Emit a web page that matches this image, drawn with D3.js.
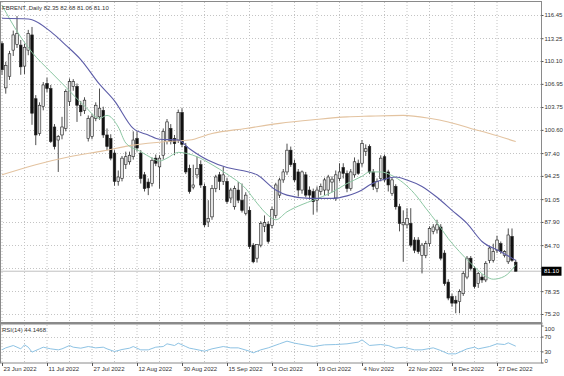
<!DOCTYPE html>
<html>
<head>
<meta charset="utf-8">
<script src="https://cdn.jsdelivr.net/npm/d3@7"></script>
<style>
  body { margin: 0; background: #fff; }
  svg { display: block; font-family: "Liberation Sans", Arial, sans-serif; }
</style>
</head>
<body>
<svg id="chart" width="564" height="376"></svg>
<script>
const title = 'FBRENT.,Daily 82.35 82.68 81.06 81.10';
const rsiTitle = 'RSI(14) 44.1468';

// one label every 12 bars
const dateLabels = ['23 Jun 2022','11 Jul 2022','27 Jul 2022','12 Aug 2022','30 Aug 2022','15 Sep 2022',
  '3 Oct 2022','19 Oct 2022','4 Nov 2022','22 Nov 2022','8 Dec 2022','27 Dec 2022'];

// daily OHLC, 23 Jun 2022 .. 4 Jan 2023
const open = [112.5,106.4,108.0,111.6,112.4,112.3,109.4,111.6,113.7,104.9,
  100.1,103.8,107.0,106.3,101.0,99.2,99.9,100.8,104.5,106.6,
  106.6,104.0,103.3,99.4,99.7,102.2,102.4,103.3,99.9,99.4,
  97.4,93.5,93.9,95.8,96.2,96.9,99.4,97.4,94.4,93.4,
  93.2,96.7,95.5,97.1,99.0,100.8,99.4,99.2,103.0,98.3,
  95.3,92.7,94.4,95.8,92.8,87.9,88.6,92.5,94.4,93.5,
  93.5,91.2,90.0,92.3,90.9,89.1,89.5,84.7,82.9,84.7,
  87.3,87.6,87.4,88.8,91.6,93.7,94.8,97.8,96.0,94.8,
  92.3,94.4,92.3,92.1,90.9,92.1,92.3,92.3,93.4,91.2,
  93.9,95.4,94.6,92.5,94.4,96.0,96.0,97.6,98.3,94.8,
  92.5,93.9,96.9,94.8,91.8,92.8,90.0,87.5,87.5,87.7,
  85.4,85.4,83.3,83.3,84.9,86.6,86.8,87.2,83.6,79.6,
  77.6,77.1,76.9,78.0,80.3,82.9,81.5,79.4,80.3,79.9,
  82.6,82.6,84.0,84.9,83.3,82.4,85.9,82.35];
const high = [112.8,110.0,111.5,114.3,116.3,113.0,112.5,114.4,114.8,105.4,
  104.4,107.2,107.8,106.8,101.4,99.9,102.4,106.2,107.7,107.6,
  107.0,104.6,105.1,102.6,102.8,104.4,106.3,103.8,100.8,100.0,
  97.8,95.0,97.0,97.6,97.6,100.4,100.4,97.8,94.8,93.9,
  96.8,97.2,97.1,100.8,102.1,101.4,99.9,103.4,103.6,98.8,
  95.8,95.8,96.9,96.4,93.2,90.9,93.0,94.4,94.8,95.5,
  94.0,92.6,92.9,93.4,93.2,92.0,90.0,85.0,84.8,88.0,
  88.8,88.0,90.0,93.3,94.0,95.2,98.7,98.3,96.5,95.2,
  95.0,94.8,92.8,92.5,92.8,93.2,94.0,94.4,94.2,95.0,
  96.0,96.0,95.0,95.2,96.8,96.5,99.2,98.6,98.6,95.2,
  93.9,97.1,97.2,95.1,94.0,93.1,90.4,89.5,89.8,89.8,
  85.8,85.8,85.0,85.3,87.3,87.6,88.2,87.6,84.0,80.0,
  78.0,77.7,78.6,81.1,83.2,83.2,81.8,81.0,80.7,82.5,
  84.6,84.9,86.0,85.2,84.0,87.0,87.0,82.68];
const low = [108.2,105.6,107.5,110.8,111.9,108.2,108.3,110.9,101.3,98.5,
  99.8,103.3,105.8,98.8,97.9,94.8,99.3,100.4,103.9,106.0,
  101.7,102.5,102.8,99.0,99.3,101.8,102.0,99.5,97.8,96.4,
  92.9,92.9,93.5,95.2,95.8,96.5,97.6,93.2,92.1,91.6,
  92.8,95.6,92.5,96.5,98.6,98.6,97.1,98.8,98.2,94.5,
  91.8,92.4,93.9,92.6,87.2,87.2,88.2,92.0,92.3,93.0,
  90.4,90.5,89.6,90.5,89.2,88.8,84.2,82.2,82.3,84.4,
  86.5,84.9,87.0,88.4,91.2,93.3,94.4,95.5,93.4,91.4,
  91.8,91.3,91.0,88.9,89.3,91.6,91.6,91.5,92.0,90.8,
  93.5,93.9,92.0,92.2,94.0,94.4,95.5,97.0,94.5,92.3,
  92.0,93.5,93.4,92.1,91.5,89.6,86.6,82.4,87.0,84.4,
  83.6,83.5,80.8,82.9,84.5,86.2,86.3,82.6,79.1,77.1,
  76.2,75.3,75.3,77.7,80.0,81.2,78.7,78.8,79.5,79.6,
  82.2,82.3,83.6,83.5,83.0,82.1,82.4,81.06];
const close = [108.9,109.5,111.1,113.7,113.9,109.3,112.0,113.9,102.9,99.9,
  104.0,106.8,106.3,99.0,98.3,99.7,101.0,105.9,107.25,107.25,
  104.0,103.1,104.7,102.2,102.4,104.0,103.6,99.9,98.3,96.7,
  93.5,94.1,96.7,96.9,97.1,99.2,98.1,93.9,92.5,92.6,
  96.4,96.0,96.7,100.4,101.7,99.0,98.7,103.0,98.6,94.8,
  92.1,93.0,95.3,93.0,87.5,88.4,92.5,94.1,93.5,94.4,
  90.7,92.3,92.5,90.9,89.5,91.6,84.5,82.4,84.8,87.7,
  87.8,85.2,89.6,93.0,93.7,94.8,97.8,95.8,93.7,92.3,
  94.8,91.6,91.6,90.7,92.3,92.8,93.7,94.1,93.8,94.4,
  94.8,94.6,92.5,94.8,96.2,94.6,98.7,98.0,94.8,92.8,
  93.5,96.7,93.7,93.0,93.7,90.0,87.7,87.8,88.4,84.7,
  84.0,83.8,84.7,84.9,87.0,87.2,87.5,82.9,79.4,77.4,
  76.7,76.7,78.3,80.8,82.9,81.5,79.0,80.8,79.9,82.2,
  84.3,83.8,85.4,83.8,83.8,86.1,82.6,81.10];

// moving averages: [bar index, price]
const maBlue = [[0,116.0],[7,115.9],[8,115.8],[13,114.15],[17,112.3],[21,110.3],[26,106.9],
  [30,104.6],[35,100.8],[39,99.9],[42,99.3],[47,99.2],[50,98.0],[55,96.4],[60,95.4],
  [64,95.0],[68,94.4],[73,92.3],[76,91.6],[82,91.15],[88,91.15],[92,91.5],[96,92.3],
  [98,93.0],[102,93.8],[105,94.1],[108,93.7],[112,92.8],[116,91.3],[120,89.5],[124,87.7],
  [128,85.2],[133,83.8],[137,82.6]];
const maGreen = [[0,117.8],[5,113.4],[8,111.3],[13,108.6],[17,106.5],[22,103.9],[26,102.2],
  [28,102.6],[31,101.0],[33,98.8],[37,97.6],[40,96.7],[42,96.3],[44,96.7],[47,97.5],
  [52,96.9],[56,95.8],[60,94.5],[65,92.5],[68,90.5],[71,88.8],[73,88.2],[76,89.3],
  [80,90.3],[83,90.9],[88,92.0],[92,93.2],[96,94.2],[98,94.8],[101,94.8],[104,94.3],
  [107,93.3],[110,91.8],[113,89.8],[116,87.8],[119,85.6],[122,83.8],[125,82.2],
  [129,80.4],[131,80.0],[134,80.4],[137,82.0]];
const maTan = [[0,94.4],[9,95.8],[18,96.9],[27,97.7],[35,98.5],[44,99.0],[50,99.2],
  [56,100.1],[65,100.8],[74,101.5],[83,102.0],[92,102.4],[98,102.5],[107,102.6],
  [114,102.2],[119,101.7],[125,100.8],[130,100.1],[137,99.0]];

const rsi = [[0,34.3],[1,39.6],[3,45.9],[4,41.4],[5,36.9],[6,47.7],[7,41.4],[8,28.0],
  [10,36.9],[11,41.4],[13,36.9],[15,34.2],[16,36.9],[18,45.9],[19,41.4],[21,38.7],
  [23,43.2],[25,39.6],[27,41.4],[28,36.9],[30,29.7],[32,35.1],[34,38.7],[35,43.2],
  [37,34.2],[39,34.2],[41,41.4],[43,43.2],[44,50.5],[46,45.9],[47,52.3],[49,43.2],
  [50,38.7],[51,36.9],[54,30.6],[56,36.9],[59,43.2],[61,39.6],[63,39.6],[66,30.6],
  [67,26.1],[69,34.2],[71,39.6],[74,50.5],[76,57.7],[78,52.3],[79,50.5],[83,43.2],
  [86,47.7],[89,48.6],[92,50.5],[95,55.0],[96,61.3],[98,46.0],[101,48.6],[103,45.9],
  [105,38.7],[107,41.4],[110,34.2],[112,34.2],[115,39.6],[117,32.4],[119,23.4],
  [121,23.4],[124,36.9],[126,41.4],[127,36.9],[130,43.2],[132,50.5],[134,48.6],
  [135,53.2],[137,44.1]];

const priceTicks = [116.45,113.25,110.10,106.95,103.75,100.60,97.40,94.25,91.05,87.90,84.70,81.55,78.35,75.20];
const rsiTicks = [100,70,30,0];
const rsiLevels = [70,30];
const lastPrice = 81.10;

const svg = d3.select('#chart');
const right = 541.5;
const n = close.length;
const fontSize = 6;

const x = d3.scaleLinear().domain([0, n-1]).range([2, 2 + (n-1)*3.75]);
const y = d3.scaleLinear().domain([75.20, 116.45]).range([314, 15]);
const yr = d3.scaleLinear().domain([0, 100]).range([362.5, 325.5]);

const textCol = '#333';
const gridCol = '#c4c4c4';

// grid, main panel + rsi panel
const grid = svg.append('g');
d3.range(0, n, 6).forEach(function(i){
  grid.append('line')
    .attr('x1', x(i)).attr('x2', x(i))
    .attr('y1', 2).attr('y2', 322)
    .attr('stroke', gridCol).attr('stroke-dasharray', '1,2');
  grid.append('line')
    .attr('x1', x(i)).attr('x2', x(i))
    .attr('y1', 325).attr('y2', 363)
    .attr('stroke', gridCol).attr('stroke-dasharray', '1,2');
});
priceTicks.forEach(function(p){
  grid.append('line')
    .attr('x1', 0).attr('x2', right)
    .attr('y1', Math.round(y(p)) + 0.5).attr('y2', Math.round(y(p)) + 0.5)
    .attr('stroke', gridCol).attr('stroke-dasharray', '1,2');
});
rsiLevels.forEach(function(v){
  grid.append('line')
    .attr('x1', 0).attr('x2', right)
    .attr('y1', Math.round(yr(v)) + 0.5).attr('y2', Math.round(yr(v)) + 0.5)
    .attr('stroke', gridCol).attr('stroke-dasharray', '1,2');
});

// bid line
svg.append('line')
  .attr('x1', 0).attr('x2', right)
  .attr('y1', y(lastPrice)).attr('y2', y(lastPrice))
  .attr('stroke', '#b0b0b0').attr('stroke-width', 0.8);

// candles
const bars = svg.append('g').selectAll('g')
  .data(d3.range(n))
  .join('g');

bars.append('line')
  .attr('x1', d => x(d)).attr('x2', d => x(d))
  .attr('y1', d => y(high[d])).attr('y2', d => y(low[d]))
  .attr('stroke', '#222').attr('stroke-width', 0.8);

bars.append('rect')
  .attr('x', d => x(d) - 1.3)
  .attr('width', 2.6)
  .attr('y', d => y(Math.max(open[d], close[d])))
  .attr('height', d => Math.max(0.8, Math.abs(y(open[d]) - y(close[d]))))
  .attr('fill', d => close[d] >= open[d] ? '#e4e4e4' : '#111')
  .attr('stroke', '#222').attr('stroke-width', 0.6);

// moving averages
const maLine = d3.line()
  .x(d => x(d[0]))
  .y(d => y(d[1]))
  .curve(d3.curveMonotoneX);

svg.append('path').datum(maTan)
  .attr('d', maLine).attr('fill', 'none')
  .attr('stroke', '#e3c3a0').attr('stroke-width', 1.1);
svg.append('path').datum(maGreen)
  .attr('d', maLine).attr('fill', 'none')
  .attr('stroke', '#8dc8a4').attr('stroke-width', 1);
svg.append('path').datum(maBlue)
  .attr('d', maLine).attr('fill', 'none')
  .attr('stroke', '#5d5da8').attr('stroke-width', 1.1);

// rsi
svg.append('path').datum(rsi)
  .attr('d', d3.line().x(d => x(d[0])).y(d => yr(d[1])))
  .attr('fill', 'none')
  .attr('stroke', '#8ec3e4').attr('stroke-width', 1);

// frame
const frame = svg.append('g').attr('fill', 'none').attr('stroke', '#8a8a8a');
frame.append('rect').attr('x', 0.5).attr('y', 1.5).attr('width', right - 0.5).attr('height', 321);
frame.append('rect').attr('x', 0.5).attr('y', 322.5).attr('width', right - 0.5).attr('height', 40.5);
svg.append('line').attr('x1', 0).attr('x2', right + 1)
  .attr('y1', 323.5).attr('y2', 323.5)
  .attr('stroke', '#8a8a8a').attr('stroke-width', 2);

// price axis (the label under the last-price box is hidden, as in the terminal)
const yAxis = svg.append('g')
  .attr('transform', `translate(${right},0)`)
  .call(d3.axisRight(y).tickValues(priceTicks)
    .tickFormat(d => Math.abs(y(d) - y(lastPrice)) < 7 ? '' : d3.format('.2f')(d))
    .tickSize(2).tickPadding(1));
yAxis.select('.domain').remove();
yAxis.selectAll('line').attr('stroke', '#555');
yAxis.selectAll('text').attr('fill', textCol).attr('font-size', fontSize)
  .attr('font-family', '"Liberation Sans", Arial, sans-serif');

// rsi axis
const rAxis = svg.append('g')
  .attr('transform', `translate(${right},0)`)
  .call(d3.axisRight(yr).tickValues(rsiTicks).tickSize(2).tickPadding(1));
rAxis.select('.domain').remove();
rAxis.selectAll('line').attr('stroke', '#555');
rAxis.selectAll('text').attr('fill', textCol).attr('font-size', fontSize)
  .attr('font-family', '"Liberation Sans", Arial, sans-serif')
  .attr('dy', d => d === 100 ? '0.85em' : d === 0 ? '0' : '0.32em');

// last price box
svg.append('rect')
  .attr('x', right).attr('y', y(lastPrice) - 4.5)
  .attr('width', 20).attr('height', 9).attr('fill', '#000');
svg.append('text')
  .attr('x', right + 2.5).attr('y', y(lastPrice) + 2.2)
  .attr('fill', '#fff').attr('font-size', fontSize)
  .text(d3.format('.2f')(lastPrice));

// date axis
const xAxis = svg.append('g')
  .attr('transform', 'translate(0,363)')
  .call(d3.axisBottom(x).tickValues(d3.range(0, n, 12)).tickFormat((d, i) => dateLabels[i]).tickSize(3).tickPadding(1));
xAxis.select('.domain').remove();
xAxis.selectAll('line').attr('stroke', '#555');
xAxis.selectAll('text').attr('fill', textCol).attr('font-size', fontSize)
  .attr('font-family', '"Liberation Sans", Arial, sans-serif')
  .attr('text-anchor', 'start').attr('dx', 1);

// titles
svg.append('text').attr('x', 2).attr('y', 9.5)
  .attr('fill', textCol).attr('font-size', fontSize).text(title);
svg.append('text').attr('x', 2).attr('y', 332)
  .attr('fill', textCol).attr('font-size', fontSize).text(rsiTitle);
</script>
</body>
</html>
